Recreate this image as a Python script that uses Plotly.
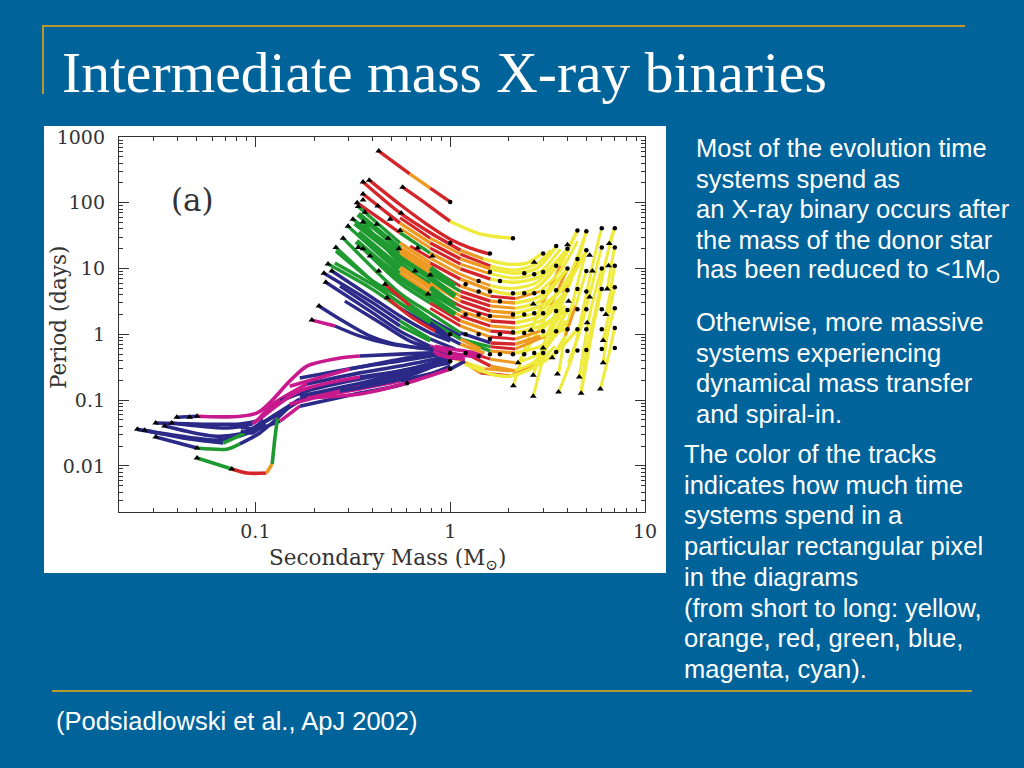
import plotly.graph_objects as go

# Period (days) against secondary mass (solar masses).
# rank = residence-time class per segment: 0 yellow, 1 orange, 2 red, 3 green, 4 blue, 5 magenta
high_mass = [
 [6.97,6.5,5.9],[6.97,6.4,6.1],[6.97,6.5,6.1],[6.97,6.65,6.3],[6.97,6.7,6.4],[6.97,6.75,6.56],
 [5.98,5.37,4.83,4.24,3.6],[5,4.4,3.68,3.08,2.67],[4.5,3.68,2.9,2.43,2.11],[5.98,5.37,4.7],
 [5,4.4,3.93,3.6],[5.98,5.25,4.6],[5.98,5.25,4.55,4.04],[5,4.4,3.9,3.34],[4.5,3.77,3.19,2.67],[4,3.27,2.74,2.23],
 [6.97,6.2,5.6,5.0,4.7],
]
high_period = [
 [1.25,.47,.148],[2.5,.95,.37],[5.2,1.9,.81],[11,4.5,2],[21,11,4.9],[41,31,24],
 [41,11,2.5,.47,.133],[37,10,2.5,.56,.115],[38,11,2.5,.66,.165],[4.9,1.12,.127],
 [19,4.5,1.12,.25],[10,2.26,.225],[21,4.5,.95,.37],[9.2,2.7,.95,.44],[14,3.8,1.12,.24],[9.9,2.7,.95,.37],
 [41,11,2.5,.56,.127],
]
high_rank = [[0,0],[0,0],[0,0],[0,0],[0,0],[0,0],[0,0,0,0],[0,0,0,0],[0,1,0,0],[0,0],[0,0,0],[0,0],[0,0,0],[0,1,0],[1,0,0],[1,0,0],[0,0,0,0]]

mid_mass = [
 [.553,.79,1.13,1.61,2.16,2.8,3.27],[.553,.79,1.13,1.61,2.16,2.9,3.68],[.623,.79,1.13,1.61,2.03,2.74,3.45],
 [.79,1.13,1.61,2.16,2.9,3.68,4.5],[.79,1.13,1.61,2.16,2.9,3.9],[.79,1.13,1.61,2.16,2.9,4,5],
 [.79,1.13,1.61,2.16,2.9,3.9],[.79,1.13,1.61,2.16,2.9,3.9],[1.13,1.61,2.16,3.08,3.68],
 [1.27,1.61,2.16,2.9,3.9],[1.06,1.5,2.03,2.74,3.45],
]
mid_period = [
 [59,29,16.5,11,9.5,12,19],[41,20.5,11.7,8.3,7.2,9,20],[22,14.5,8.2,5.5,5,6,12],
 [10.2,5.4,3.8,3.5,4.5,9.2,26],[7.2,3.8,2.7,2.5,3.2,9.2],[5.1,2.7,1.9,1.8,2.26,6.9,37],
 [3.6,1.9,1.34,1.25,1.6,3.8],[2.5,1.34,.91,.85,1.12,2.7],[.85,.65,.6,.94,1.9],
 [.52,.42,.37,.52,1.6],[.42,.3,.277,.35,.66],
]
mid_rank = [
 [2,1,2,0,0,0],[1,2,1,0,0,0],[2,1,1,0,0,0],
 [2,1,2,1,0,0],[1,2,1,0,0],[2,2,1,0,0,0],
 [1,2,1,0,0],[2,1,2,1,0],[3,2,1,0],
 [2,1,0,0],[0,1,0,0],
]

fan_mass = [
 [.43,.62,.79,1],[.57,.76,1,1.37,1.66,2.08],[.384,.55,.76,1,1.27,1.6],
 [.357,.553,.79,1.13,1.48,1.96,2.49,2.97],[.357,.553,.79,1.13,1.61,2.16,2.8,3.51],
 [.333,.553,.79,1.13,1.61,2.16,2.9,4.0],[.337,.553,.79,1.13,1.61,2.03,2.74,3.68,4.5],
 [.317,.553,.79,1.13,1.61,2.16,2.9,4.0],[.357,.553,.79,1.13,1.61,2.16,2.9,3.9,5],
 [.299,.553,.79,1.13,1.61,2.16,2.9,4],[.357,.553,.79,1.13,1.61,2.16,2.9,4],
 [.282,.553,.79,1.13,1.61,2.16,2.9,4],[.259,.492,.79,1.19,1.61,2.16,3.08,4],
 [1.19,1.61,2.16,2.74,3.51],[1,1.43,2.03,2.74,4],[1.19,1.61,2.03,2.67,3.55,4.5],
]
fan_period = [
 [611,275,167,103],[173,95,52,35,31,29],[221,95,47,28,20.5,16.6],
 [207,70,35,19,14,11.7,12.2,17.2],[136,49,24.5,14,9.9,8.5,10.2,22],
 [100,35,17.2,9.9,6.9,6.2,7.7,20],[88,24.5,12.2,6.9,4.7,4.1,5,13,38],
 [56,17.2,8.5,4.5,3.2,3,3.8,9.9],[51,12.2,6,3.2,2.26,2.1,2.7,5.4,19],
 [44,8.5,4.2,2.26,1.6,1.5,1.9,4.7],[20,6,3,1.6,1.12,1.05,1.34,2.35],
 [29,4.2,2.1,1.05,.74,.71,.94,1.2],[21,3.8,1.5,.79,.557,.52,.71,1.6],
 [.52,.33,.277,.393,1.12],[.52,.26,.233,.33,2.35],[.354,.25,.233,.31,.557,1.2],
]
fan_rank = [
 [2,1,2],[2,2,0,0,0],[2,2,2,2,2],
 [2,2,2,1,0,0,0],[2,1,2,1,0,0,0],
 [2,3,1,2,0,0,0],[3,1,2,1,0,0,0,0],
 [3,1,3,2,1,0,0],[3,3,1,2,1,0,0,0],
 [3,1,3,1,2,0,0],[3,3,2,1,2,0,0],
 [3,3,3,4,2,1,0],[3,3,4,3,1,0,0],
 [2,1,0,0],[1,2,1,0],[0,0,0,0,0],
]

green_mass = [[.337,.553,.79,1.06],[.325,.553,.79,1.06],[.337,.553,.79,1.06],[.33,.553,.79,1.06]]
green_period = [[67,20,10.2,5.4],[49,14.5,7.2,3.8],[35,10.2,5.1,2.7],[26,7.2,3.6,2]]
green_rank = [[3,1,3],[3,3,3],[3,1,3],[3,3,3]]

blue_mass = [
 [.247,.388,.553,.79,1],[.236,.388,.553,.79,1],[.225,.388,.553,.79,1.06],[.23,.388,.553,.79,1],
 [.212,.272,.388,.492,.70,1],[.195,.256,.344,.492,.7,1],[.259,.388,.553,.79,1.13],
 [.463,.623,.837,1.13,1.43],[.474,.623,.837,1.13,1.5],
 [.272,.388,.553,.79],[.256,.388,.553,.79,.94],[.288,.437,.623,.89],
]
blue_period = [
 [9.2,3.8,1.9,1.05,.79],[11.7,5.1,2.5,1.34,.94],[8.5,3.2,1.6,.85,.6],[6.2,2.26,1.12,.66,.557],
 [2.7,1.7,.94,.74,.62,.557],[1.65,1.34,.94,.71,.62,.557],[18.5,6.9,3.6,1.7,.94],
 [5.8,2.7,1.44,.85,.6],[3.6,1.9,1.12,.71,.52],
 [5.4,2.7,1.34,.79],[12.2,6,3,1.5,1.05],[3.2,1.5,.79,.557],
]
blue_rank = [[4,4,4,4],[3,3,4,4],[4,4,3,4],[4,4,4,5],[4,4,4,4,4],[5,4,4,4,4],[3,3,3,4],[2,3,3,1],[2,2,4,1],[4,4,3],[3,3,3,4],[4,4,4]]

low_mass = [
 [.0395,.0502,.102,.15,.184,.272,.344,.553,1],
 [.0308,.0832,.102,.123,.184,.344,.553,1],
 [.0372,.0714,.0968,.134,.184,.344,.553,1],
 [.0342,.0607,.0832,.0968,.134,.184,.344,.553,1],
 [.0248,.0409,.0632,.0832,.105,.134,.169,.344,.553,1],
 [.027,.046,.0683,.0885,.112,.169,.344,.553,1],
 [.0308,.0502,.0714,.0832,.105,.13],
 [.0502,.0757,.0905,.114,.122,.126,.13,.156,.184,.344,.6,1,1.19],
 [.169,.344,.553,1],[.15,.272,.553,1],[.169,.344,.553,1],[.15,.306,.553,1],[.105,.169,.344,.623,1],
 [.082,.096,.11],[.084,.097,.112],
 [.82,1,1.43],[.82,1,1.27],[.837,1,1.27,1.46],[.837,1,1.19],
]
low_period = [
 [.055,.057,.064,.195,.33,.436,.468,.50,.54],
 [.045,.0435,.048,.087,.176,.26,.33,.47],
 [.045,.0378,.0435,.097,.138,.21,.277,.42],
 [.0405,.0285,.0305,.0366,.064,.115,.164,.232,.393],
 [.036,.0285,.0248,.0285,.0366,.048,.081,.128,.17,.33],
 [.035,.0257,.0223,.0315,.048,.104,.148,.195,.297],
 [.0276,.0187,.018,.0216,.0315,.0535],
 [.0132,.009,.0078,.0078,.0107,.0266,.0535,.087,.108,.124,.182,.297,.393],
 [.115,.18,.257,.37],[.087,.138,.21,.42],[.217,.32,.393,.52],[.163,.297,.42,.557],[.051,.138,.225,.297,.45],
 [.04,.037,.05],[.034,.032,.045],
 [.64,.52,.45],[.557,.45,.5],[.66,.6,.54,.47],[.52,.44,.42],
]
low_rank = [
 [4,5,5,5,5,5,4,4],[4,4,5,5,4,4,4],[4,4,5,4,4,4,4],[4,4,4,4,4,5,4,4],[4,4,4,4,4,5,4,4,4],
 [4,4,3,4,4,5,5,4],[4,3,3,4,4],[3,2,2,1,3,3,4,4,5,5,5,4],
 [4,4,4],[5,4,4],[4,4,4],[5,4,4],[5,5,4,4],
 [4,4],[4,4],
 [5,5],[5,5],[5,5,5],[5,5],
]

dot_mass = [7,6,5,4.5,4,3.5,3,2.1,1.6,1,
 7,6,5,4.5,4,3.5,3,2.7,2.4,1.6,1.8,1,
 7,6,5,
 7,6,5,4.5,4,3.5,3,2.7,2.4,2.1,1.8,1.6,1.4,1.2,1.4,
 7,6,5,4.5,4,3.5,3,2.7,2.4,2.1,1.6,1.4,1.2,
 7,6,5,4.5,4,3.5,3,2.4,2.1,1.8,1.6,1.4,1.2,1,
 7,6,5,4.5,4,3.5,3,2.7,2.4,2.1,1.8,1.6,1.4,1.2,1,.6,1,1]
dot_period = [41,41,37,38,20,22,17,29,17,103,
 21,21,19,14,10,11,8.9,8.2,8.5,8.9,6.5,24.5,
 11,10,9.2,
 5.2,4.9,4.5,4.9,4.7,4.7,4.4,4.2,4.2,4.2,3.2,4.5,4.5,5.8,6.5,
 2.5,2.4,2.4,2.4,2.35,2.26,2.1,2.1,2,2,1.9,2,2,
 1.25,1.2,1.2,1.2,1.2,1.12,1.12,1.05,1.08,1,.85,1,1,1,
 .62,.6,.58,.57,.56,.54,.52,.52,.5,.5,.5,.5,.47,.52,.52,.18,.3,.39]

tri_mass = [.384,.357,.43,.57,.357,.357,.425,.56,.333,.337,.365,.492,.317,.357,.42,.553,.48,.68,.81,.545,.66,.79,.77,.463,.43,.388,.357,.337,.299,.282,.259,.236,.225,.247,.23,.212,.195,.474,
 6.56,6.5,6.4,6.3,6.1,6.1,5.9,4.7,3.6,2.67,2.11,4.6,3.55,2.67,2.23,3.34,3.0,5.2,5.37,5.2,4.05,4,2.7,2.67,2.6,5.05,
 .0395,.0502,.046,.0308,.0372,.0342,.0248,.027,.0308,.0502,.0502,.0757]
tri_period = [221,207,611,173,136,110,89,70,100,88,72,56,56,51,47,38,29,20.5,15.5,20,9.2,8,4.1,5.8,9.2,15.5,20,21,44,29,21,11.7,8.5,9.2,6.2,2.7,1.65,3.6,
 24,11,4.9,2,.81,.37,.148,.127,.133,.115,.165,.225,.25,.24,.37,.44,.62,16,9.2,3.7,3.2,23,12.5,2.9,1.16,1.5,
 .055,.057,.055,.045,.045,.0405,.036,.035,.0276,.0187,.0132,.009]

x_tick_vals = [0.1, 1, 10]
x_tick_text = ["0.1", "1", "10"]
y_tick_vals = [0.01, 0.1, 1, 10, 100, 1000]
y_tick_text = ["0.01", "0.1", "1", "10", "100", "1000"]

title_text = "Intermediate mass X-ray binaries"
text_one = ["Most of the evolution time", "systems spend as", "an X-ray binary occurs after",
            "the mass of the donor star", "has been reduced to &lt;1M<sub>O</sub>"]
text_two = ["Otherwise, more massive", "systems experiencing", "dynamical mass transfer", "and spiral-in."]
text_three = ["The color of the tracks", "indicates how much time", "systems spend in a",
              "particular rectangular pixel", "in the diagrams", "(from short to long: yellow,",
              "orange, red, green, blue,", "magenta, cyan)."]
source_text = "(Podsiadlowski et al., ApJ 2002)"

PALETTE = ["#efeb3c", "#ee9a22", "#d4262a", "#1e9a30", "#2c2a88", "#c81a8c"]
BG, GOLD = "#00649b", "#b8982f"
INK = "#333333"
L, R, T, B = 119, 645, 137, 512
W, H = 1024, 768
SERIF = "DejaVu Serif, serif"
SANS = "Liberation Sans, Arial, sans-serif"

def px(x): return (x - L) / (R - L)
def py(y): return (B - y) / (B - T)

fig = go.Figure()

def add_family(masses, periods, ranks, width=3.4):
    for m, p, r in zip(masses, periods, ranks):
        start = 0
        for i in range(1, len(r) + 1):
            if i == len(r) or r[i] != r[start]:
                fig.add_trace(go.Scatter(
                    x=m[start:i + 1], y=p[start:i + 1], mode="lines",
                    line=dict(color=PALETTE[r[start]], width=width, shape="spline", smoothing=0.8),
                    hoverinfo="skip", showlegend=False))
                start = i

add_family(high_mass, high_period, high_rank, 3)
add_family(mid_mass, mid_period, mid_rank, 3)
add_family(fan_mass, fan_period, fan_rank)
add_family(green_mass, green_period, green_rank, 5.5)
add_family(blue_mass, blue_period, blue_rank)
add_family(low_mass, low_period, low_rank, 3.6)

fig.add_trace(go.Scatter(x=dot_mass, y=dot_period, mode="markers",
                         marker=dict(symbol="circle", size=4.5, color="black"), showlegend=False))
fig.add_trace(go.Scatter(x=tri_mass, y=tri_period, mode="markers",
                         marker=dict(symbol="triangle-up", size=6, color="black"), showlegend=False))

axis = dict(type="log", showgrid=False, zeroline=False, showline=True, linecolor=INK, linewidth=1.3,
            mirror="allticks", ticks="inside", ticklen=10, tickcolor=INK,
            tickfont=dict(family=SERIF, size=19, color=INK),
            minor=dict(ticks="inside", ticklen=4, tickcolor=INK, dtick="D1", showgrid=False))

fig.update_xaxes(range=[-1.7, 1], tickvals=x_tick_vals, ticktext=x_tick_text, ticklabelstandoff=2, **axis)
fig.update_yaxes(range=[-2.7, 3], tickvals=y_tick_vals, ticktext=y_tick_text, ticklabelstandoff=9, **axis)

shapes = [
    dict(type="rect", xref="paper", yref="paper", x0=px(44), x1=px(666), y0=py(573), y1=py(126),
         fillcolor="white", line_width=0, layer="below"),
    dict(type="line", xref="paper", yref="paper", x0=px(42), x1=px(965), y0=py(26), y1=py(26), line=dict(color=GOLD, width=2)),
    dict(type="line", xref="paper", yref="paper", x0=px(43), x1=px(43), y0=py(26), y1=py(94), line=dict(color=GOLD, width=2)),
    dict(type="line", xref="paper", yref="paper", x0=px(52), x1=px(972), y0=py(691), y1=py(691), line=dict(color=GOLD, width=2)),
]

def note(text, x, y, size, family=SANS, color="white", xanchor="left", angle=0):
    return dict(text=text, xref="paper", yref="paper", x=px(x), y=py(y), xanchor=xanchor, yanchor="middle",
                showarrow=False, align="left", borderpad=0, borderwidth=0, textangle=angle,
                font=dict(family=family, size=size, color=color))

annotations = [
    note(title_text, 62, 73, 57.5, "Liberation Serif, Times New Roman, serif"),
    note(source_text, 56, 721, 25.5),
    note("(a)", 192, 200, 31, SERIF, INK, "center"),
    note("Secondary Mass (M<sub>⊙</sub>)", 387, 559, 21.5, SERIF, INK, "center"),
    note("Period (days)", 58, 318, 21.5, SERIF, INK, "center", -90),
]
for lines, x, first in ((text_one, 696, 148), (text_two, 696, 322), (text_three, 684, 454)):
    for i, line in enumerate(lines):
        annotations.append(note(line, x, first + 30.7 * i, 25.5))

fig.update_layout(width=W, height=H, margin=dict(l=L, r=W - R, t=T, b=H - B, autoexpand=False),
                  paper_bgcolor=BG, plot_bgcolor="rgba(0,0,0,0)", showlegend=False,
                  shapes=shapes, annotations=annotations)

fig.write_html("out.html", config=dict(displayModeBar=False),
               post_script="document.body.style.margin='0';document.documentElement.style.overflow='hidden';")
